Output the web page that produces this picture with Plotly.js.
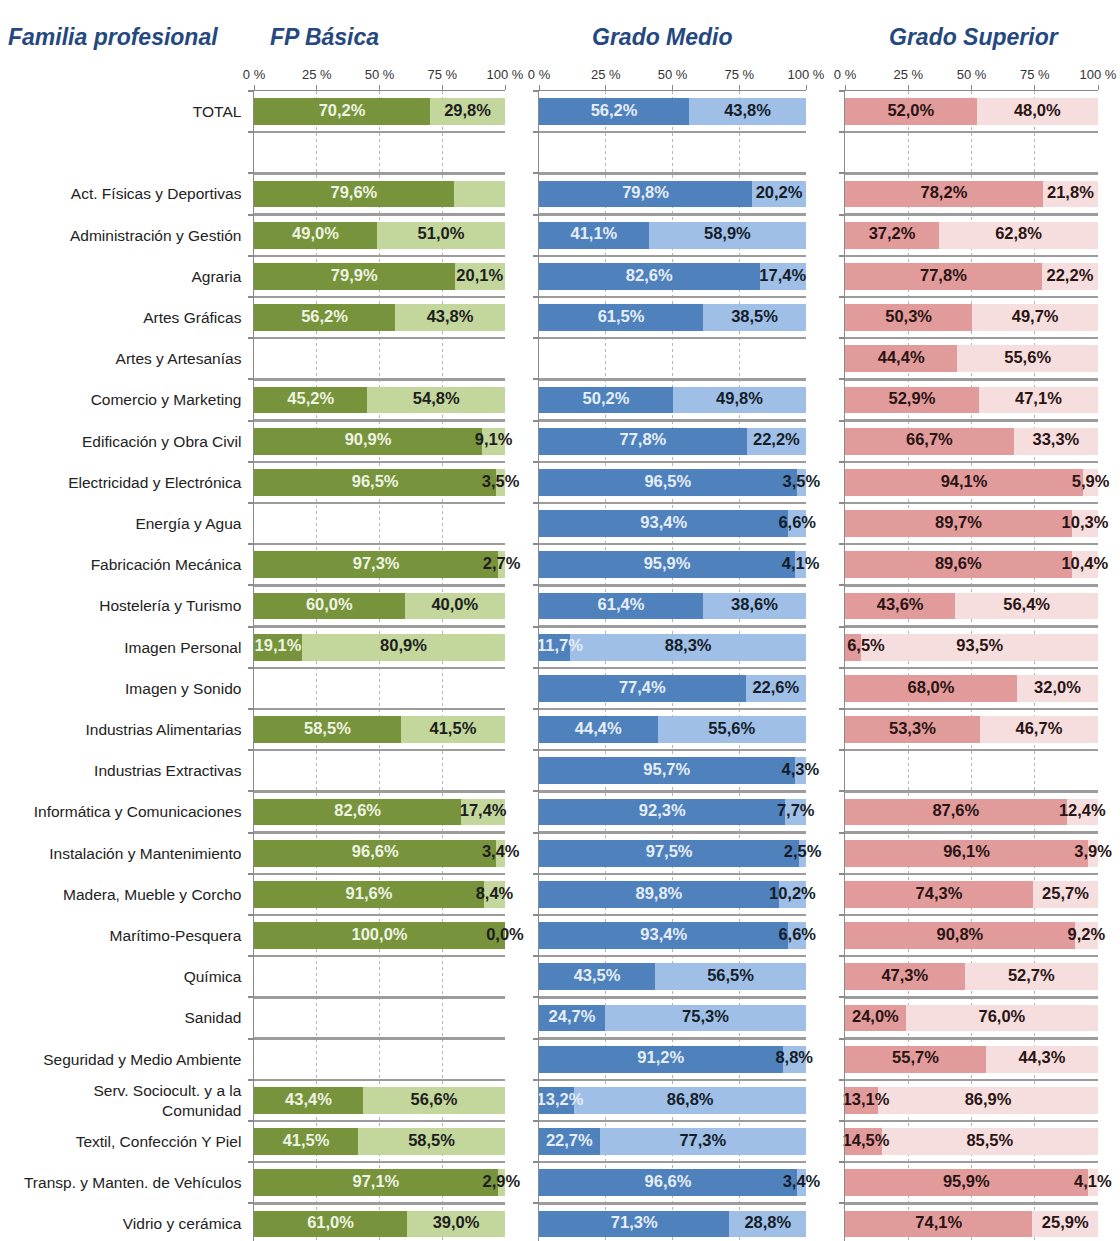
<!DOCTYPE html>
<html>
<head>
<meta charset="utf-8">
<script src="https://cdn.plot.ly/plotly-3.0.1.min.js"></script>
<style>html,body{margin:0;padding:0;background:#fff;}#chart{width:1120px;height:1241px;}</style>
</head>
<body>
<div id="chart"></div>
<script>
// ---------- DATA ----------
const categories = [
  'TOTAL', ' ', 'Act. Físicas y Deportivas', 'Administración y Gestión', 'Agraria', 'Artes Gráficas',
  'Artes y Artesanías', 'Comercio y Marketing', 'Edificación y Obra Civil', 'Electricidad y Electrónica',
  'Energía y Agua', 'Fabricación Mecánica', 'Hostelería y Turismo', 'Imagen Personal', 'Imagen y Sonido',
  'Industrias Alimentarias', 'Industrias Extractivas', 'Informática y Comunicaciones',
  'Instalación y Mantenimiento', 'Madera, Mueble y Corcho', 'Marítimo-Pesquera', 'Química', 'Sanidad',
  'Seguridad y Medio Ambiente', 'Serv. Sociocult. y a la<br>Comunidad', 'Textil, Confección Y Piel',
  'Transp. y Manten. de Vehículos', 'Vidrio y cerámica'
];
const panelTitles = ['FP Básica', 'Grado Medio', 'Grado Superior'];
const rowHeader = 'Familia profesional';
const tickVals = [0, 25, 50, 75, 100];
const tickLabels = ['0 %', '25 %', '50 %', '75 %', '100 %'];

const fpBasicaA = [70.2, null, 79.6, 49.0, 79.9, 56.2, null, 45.2, 90.9, 96.5, null, 97.3, 60.0, 19.1, null, 58.5, null, 82.6, 96.6, 91.6, 100.0, null, null, null, 43.4, 41.5, 97.1, 61.0];
const fpBasicaB = [29.8, null, 20.4, 51.0, 20.1, 43.8, null, 54.8, 9.1, 3.5, null, 2.7, 40.0, 80.9, null, 41.5, null, 17.4, 3.4, 8.4, 0.0, null, null, null, 56.6, 58.5, 2.9, 39.0];
const fpBasicaHiddenB = ['Act. Físicas y Deportivas'];

const gradoMedioA = [56.2, null, 79.8, 41.1, 82.6, 61.5, null, 50.2, 77.8, 96.5, 93.4, 95.9, 61.4, 11.7, 77.4, 44.4, 95.7, 92.3, 97.5, 89.8, 93.4, 43.5, 24.7, 91.2, 13.2, 22.7, 96.6, 71.3];
const gradoMedioB = [43.8, null, 20.2, 58.9, 17.4, 38.5, null, 49.8, 22.2, 3.5, 6.6, 4.1, 38.6, 88.3, 22.6, 55.6, 4.3, 7.7, 2.5, 10.2, 6.6, 56.5, 75.3, 8.8, 86.8, 77.3, 3.4, 28.8];

const gradoSuperiorA = [52.0, null, 78.2, 37.2, 77.8, 50.3, 44.4, 52.9, 66.7, 94.1, 89.7, 89.6, 43.6, 6.5, 68.0, 53.3, null, 87.6, 96.1, 74.3, 90.8, 47.3, 24.0, 55.7, 13.1, 14.5, 95.9, 74.1];
const gradoSuperiorB = [48.0, null, 21.8, 62.8, 22.2, 49.7, 55.6, 47.1, 33.3, 5.9, 10.3, 10.4, 56.4, 93.5, 32.0, 46.7, null, 12.4, 3.9, 25.7, 9.2, 52.7, 76.0, 44.3, 86.9, 85.5, 4.1, 25.9];

// ---------- STYLE ----------
const W = 1120, H = 1241, MT = 91, MB = 0;
const PH = H - MT - MB;
const domainsPx = [[254, 505], [539, 806], [845, 1098]];
const colorsA = ['#77933C', '#4F81BD', '#E29B9B'];
const colorsB = ['#C3D69B', '#A0BFE6', '#F5DEDD'];
const labelColA = ['#EEF4E2', '#E6EEF8', '#2A1414'];
const labelColB = ['#1E1E1E', '#141E2A', '#2A1414'];
const FONT = "'Liberation Sans Narrow', 'Arial Narrow', 'Liberation Sans', Arial, sans-serif";
const HFONT = "'Liberation Sans', Arial, sans-serif";

const panels = [
  {a: fpBasicaA, b: fpBasicaB, hideB: fpBasicaHiddenB},
  {a: gradoMedioA, b: gradoMedioB, hideB: []},
  {a: gradoSuperiorA, b: gradoSuperiorB, hideB: []}
];

function fmt(v) { return v.toFixed(1).replace('.', ',') + '%'; }

const traces = [];
const layout = {
  width: W, height: H,
  margin: {l: 0, r: 0, t: MT, b: MB},
  paper_bgcolor: '#fff', plot_bgcolor: '#fff',
  barmode: 'stack', bargap: 0.35,
  showlegend: false,
  font: {family: FONT, color: '#222'},
  annotations: []
};

panels.forEach((p, i) => {
  const xa = i === 0 ? 'x' : 'x' + (i + 1);
  const ya = i === 0 ? 'y' : 'y' + (i + 1);
  const pxPerUnit = (domainsPx[i][1] - domainsPx[i][0]) / 100;
  traces.push({type: 'bar', orientation: 'h', x: p.a, y: categories, xaxis: xa, yaxis: ya,
    marker: {color: colorsA[i], line: {width: 0}}, hoverinfo: 'skip'});
  traces.push({type: 'bar', orientation: 'h', x: p.b, y: categories, xaxis: xa, yaxis: ya,
    marker: {color: colorsB[i], line: {width: 0}}, hoverinfo: 'skip'});
  const xA = [], yA = [], tA = [], xB = [], yB = [], tB = [];
  categories.forEach((c, k) => {
    const a = p.a[k], b = p.b[k];
    if (a == null) return;
    const halfW = 21 / pxPerUnit;
    xA.push(Math.max(a / 2, halfW)); yA.push(c); tA.push(fmt(a));
    if (p.hideB.indexOf(c) === -1) { xB.push(a + b / 2); yB.push(c); tB.push(fmt(b)); }
  });
  traces.push({type: 'scatter', mode: 'text', x: xA, y: yA, text: tA, xaxis: xa, yaxis: ya,
    textposition: 'middle center', cliponaxis: false, hoverinfo: 'skip',
    textfont: {family: FONT, size: 16.5, color: labelColA[i], weight: 'bold'}});
  traces.push({type: 'scatter', mode: 'text', x: xB, y: yB, text: tB, xaxis: xa, yaxis: ya,
    textposition: 'middle center', cliponaxis: false, hoverinfo: 'skip',
    textfont: {family: FONT, size: 16.5, color: labelColB[i], weight: 'bold'}});

  const xKey = i === 0 ? 'xaxis' : 'xaxis' + (i + 1);
  const yKey = i === 0 ? 'yaxis' : 'yaxis' + (i + 1);
  layout[xKey] = {
    domain: [domainsPx[i][0] / W, domainsPx[i][1] / W], anchor: ya, side: 'top',
    range: [0, 100], autorange: false, fixedrange: true,
    tickvals: tickVals, ticktext: tickLabels, tickfont: {family: FONT, size: 13, color: '#333'},
    ticks: 'outside', ticklen: 5, tickcolor: '#888',
    showline: true, linecolor: '#888', linewidth: 1.5,
    showgrid: true, gridcolor: '#b5b5b5', griddash: 'dot', gridwidth: 1, zeroline: false
  };
  layout[yKey] = {
    domain: [0, 1], anchor: xa, type: 'category',
    categoryorder: 'array', categoryarray: categories,
    range: [27 + (H - 1224) / 41.2, -0.5], autorange: false, fixedrange: true,
    tickson: 'boundaries', ticks: 'outside', ticklen: 5, tickcolor: '#8a8a8a', tickwidth: 2,
    showgrid: true, gridcolor: '#9c9c9c', gridwidth: 2.5,
    showline: true, linecolor: '#8a8a8a', linewidth: 1.5,
    showticklabels: i === 0, tickfont: {family: FONT, size: 15.5, color: '#222'},
    ticklabelstandoff: 8, zeroline: false
  };
});

function py(p) { return 1 + (MT - p) / PH; }
const hfont = {family: HFONT, size: 23, color: '#24487F', weight: 'bold', style: 'italic'};
layout.annotations.push({xref: 'paper', yref: 'paper', x: 6 / W, y: py(37), xanchor: 'left', yanchor: 'middle',
  text: '<b><i>' + rowHeader + '</i></b>', showarrow: false, font: hfont});
const headerX = [[268, 'left'], [662, 'center'], [974, 'center']];
panelTitles.forEach((t, i) => {
  layout.annotations.push({xref: 'paper', yref: 'paper', x: headerX[i][0] / W, y: py(37),
    xanchor: headerX[i][1], yanchor: 'middle', text: '<b><i>' + t + '</i></b>', showarrow: false, font: hfont});
});

Plotly.newPlot('chart', traces, layout, {displayModeBar: false, staticPlot: true});
</script>
</body>
</html>
